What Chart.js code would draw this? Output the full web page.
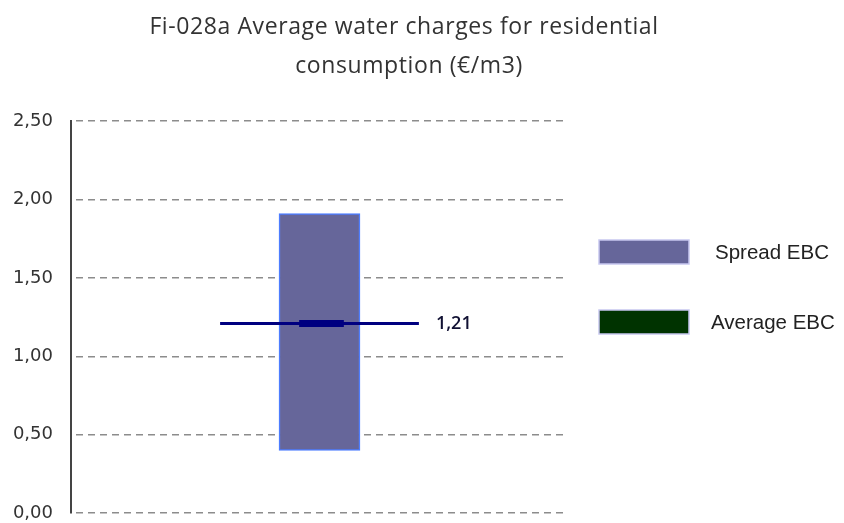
<!DOCTYPE html>
<html lang="en">
<head>
  <meta charset="UTF-8">
  <script src="https://cdn.jsdelivr.net/npm/chart.js@4.4.0/dist/chart.umd.min.js"></script>
  <style>
    * { margin: 0; padding: 0; box-sizing: border-box; }
    html, body { width: 844px; height: 523px; background: #ffffff; overflow: hidden; }
    #wrap { position: relative; width: 844px; height: 523px; overflow: hidden; }
  </style>
  <title>Fi-028a Average water charges</title>
</head>
<body>
  <div id="wrap"><canvas id="myChart" width="844" height="542"></canvas></div>

<script>
  // chart data
  var categories = ["EBC"];
  var spreadMin = [0.40];
  var spreadMax = [1.91];
  var averageVal = [1.21];
  var yTicks = [0, 0.5, 1, 1.5, 2, 2.5];
  var titleLines = ["Fi-028a Average water charges for residential", "consumption (\u20ac/m3)"];
  var legendLabels = ["Spread EBC", "Average EBC"];

  function fmt(v) {
    return v.toFixed(2).replace('.', ',');
  }

  // title, legend and value label
  const extras = {
    id: 'extras',
    afterDraw(chart) {
      const ctx = chart.ctx;
      ctx.save();

      ctx.fillStyle = '#333333';
      ctx.font = '23px "Open Sans"';
      ctx.letterSpacing = '0.6px';
      ctx.textAlign = 'center';
      ctx.textBaseline = 'middle';
      ctx.fillText(titleLines[0], 404, 27);
      ctx.fillText(titleLines[1], 409, 66);
      ctx.letterSpacing = '0px';

      // value label next to average line
      const meta = chart.getDatasetMeta(1);
      const last = meta.data[meta.data.length - 1];
      ctx.fillStyle = '#111133';
      ctx.font = '600 18px "Open Sans"';
      ctx.textAlign = 'left';
      ctx.fillText(fmt(averageVal[0]), last.x + 17, last.y);

      // legend
      const sw = [
        { fill: '#66669a', y: 240 },
        { fill: '#003300', y: 310 }
      ];
      ctx.font = '20.5px "Liberation Sans"';
      for (let i = 0; i < sw.length; i++) {
        ctx.fillStyle = sw[i].fill;
        ctx.fillRect(599, sw[i].y, 90, 24);
        ctx.strokeStyle = '#c8c8f0';
        ctx.lineWidth = 1.5;
        ctx.strokeRect(599, sw[i].y, 90, 24);
        ctx.fillStyle = '#222222';
        ctx.fillText(legendLabels[i], i == 0 ? 715 : 711, sw[i].y + 13);
      }
      ctx.restore();
    }
  };

  var myChart = new Chart("myChart", {
    type: "bar",
    data: {
      labels: categories,
      datasets: [{
        label: legendLabels[0],
        data: categories.map((c, i) => [spreadMin[i], spreadMax[i]]),
        backgroundColor: '#66669a',
        borderColor: '#4d7dff',
        borderWidth: 1.5,
        borderSkipped: false,
        barThickness: 81,
        grouped: false,
        order: 2
      }, {
        type: 'line',
        label: legendLabels[1],
        xAxisID: 'x2',
        data: [{ x: 0.3, y: averageVal[0] }, { x: 0.7, y: averageVal[0] }],
        borderColor: '#000080',
        borderWidth: 3,
        pointRadius: 0,
        fill: false,
        order: 1
      }, {
        type: 'line',
        label: 'mark',
        xAxisID: 'x2',
        data: [{ x: 0.459, y: averageVal[0] }, { x: 0.549, y: averageVal[0] }],
        borderColor: '#000080',
        borderWidth: 7,
        pointRadius: 0,
        fill: false,
        order: 0
      }]
    },
    options: {
      responsive: false,
      animation: false,
      devicePixelRatio: 1,
      layout: { padding: { top: 121, right: 276, bottom: 10, left: 0 } },
      plugins: {
        legend: { display: false },
        title: { display: false },
        tooltip: { enabled: false }
      },
      scales: {
        x: { display: false, min: 0, max: 0, offset: true },
        x2: { type: 'linear', display: false, min: 0, max: 1, offset: false, grid: { offset: false } },
        y: {
          min: 0,
          max: 2.5,
          afterFit: function (scale) { scale.width = 71; },
          afterBuildTicks: function (scale) {
            scale.ticks = yTicks.map(v => ({ value: v }));
          },
          grid: {
            drawTicks: false,
            color: '#8c8c8c',
            lineWidth: 1.5
          },
          border: { display: true, color: '#444444', width: 2, dash: [7, 5], dashOffset: -4 },
          ticks: {
            padding: 18,
            color: '#333333',
            font: { family: 'DejaVu Sans', size: 18 },
            callback: function (v) { return fmt(v); }
          }
        }
      }
    },
    plugins: [extras]
  });
</script>
</body>
</html>
